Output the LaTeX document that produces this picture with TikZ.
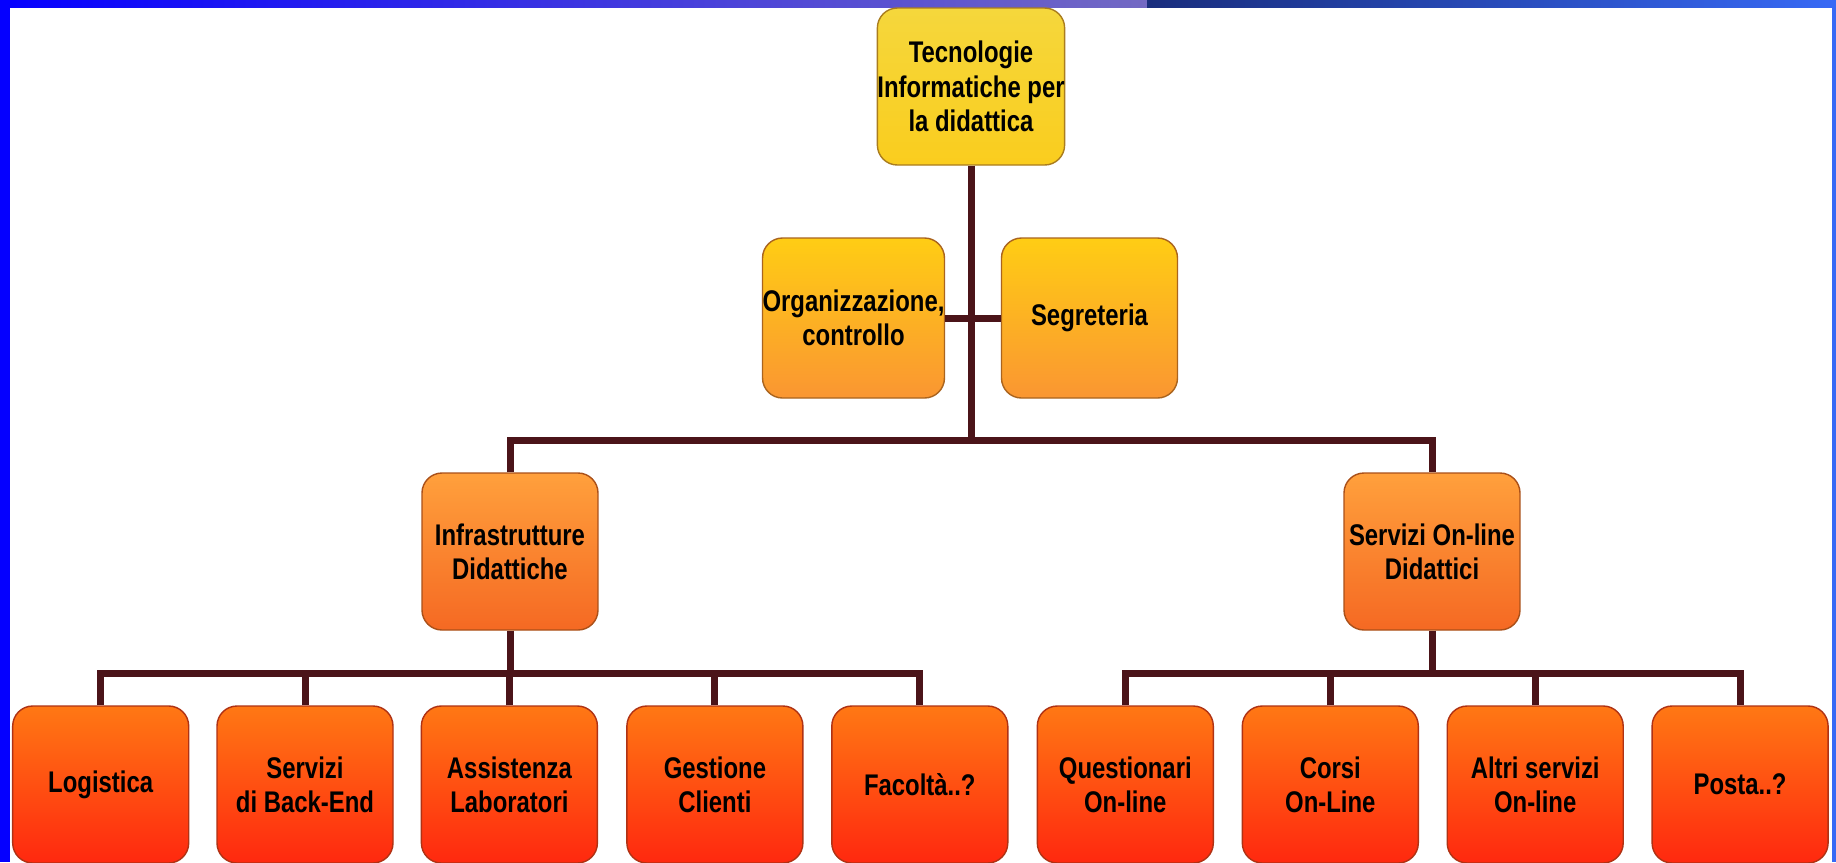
\documentclass[tikz,border=0pt]{standalone}
\usepackage{fontspec}
\setmainfont{Liberation Sans}[FakeStretch=0.8]
\usepackage{tikz}
\usetikzlibrary{shapes}

\definecolor{bandleft}{RGB}{5,0,255}
\definecolor{bandmid}{RGB}{115,105,195}
\definecolor{banddark}{RGB}{25,45,125}
\definecolor{bandright}{RGB}{55,105,245}
\definecolor{linkcol}{RGB}{75,20,25}

\begin{document}
\begin{tikzpicture}[x=0.2mm, y=-0.2mm,
  box/.style={rounded corners=4mm, line width=0.8pt, align=center,
    font=\fontsize{17}{19.5}\selectfont\bfseries, text=black,
    minimum width=35.2mm, minimum height=31.4mm, inner sep=0pt},
  rootbox/.style={box, draw={rgb,255:red,170;green,125;blue,30},
    top color={rgb,255:red,245;green,215;blue,60},
    middle color={rgb,255:red,255;green,240;blue,120},
    bottom color={rgb,255:red,250;green,205;blue,30}},
  staffbox/.style={box, minimum height=32mm, draw={rgb,255:red,170;green,100;blue,30},
    top color={rgb,255:red,255;green,205;blue,20},
    bottom color={rgb,255:red,250;green,150;blue,50}},
  areabox/.style={box, draw={rgb,255:red,170;green,80;blue,25},
    top color={rgb,255:red,255;green,160;blue,60},
    bottom color={rgb,255:red,245;green,105;blue,35}},
  leafbox/.style={box, draw={rgb,255:red,175;green,50;blue,20},
    top color={rgb,255:red,255;green,120;blue,20},
    bottom color={rgb,255:red,255;green,40;blue,15}},
  link/.style={draw=linkcol, line width=1.4mm}]

\useasboundingbox (0,0) rectangle (1836,862);
\fill[white] (0,0) rectangle (1836,862);

%%% frame %%%
\shade[left color=bandleft, right color=bandmid] (0,0) rectangle (1147,7);
\shade[left color=banddark, right color=bandright] (1147,0) rectangle (1836,7);
\fill[bandleft] (0,0) rectangle (10,862);
\fill[bandright] (1832,0) rectangle (1836,862);

%%% nodes %%%
\node[rootbox] (root) at (971,86.5) {Tecnologie\\Informatiche per\\la didattica};
\node[staffbox] (org) at (853.5,318) {Organizzazione,\\controllo};
\node[staffbox] (seg) at (1089.5,318) {Segreteria};

\node[areabox] (infra) at (510,551.5) {Infrastrutture\\Didattiche};
\node[areabox] (servol) at (1432,551.5) {Servizi On-line\\Didattici};

%% left leaves
\node[leafbox] (logi) at (100.7,784.5) {Logistica};
\node[leafbox] (backend) at (305,784.5) {Servizi\\di Back-End};
\node[leafbox] (assist) at (509.4,784.5) {Assistenza\\Laboratori};
\node[leafbox] (gest) at (714.9,784.5) {Gestione\\Clienti};
\node[leafbox] (facol) at (919.8,784.5) {Facoltà..?};
%% right leaves
\node[leafbox] (quest) at (1125.3,784.5) {Questionari\\On-line};
\node[leafbox] (corsi) at (1330.3,784.5) {Corsi\\On-Line};
\node[leafbox] (altri) at (1535.2,784.5) {Altri servizi\\On-line};
\node[leafbox] (posta) at (1740.1,784.5) {Posta..?};

%%% connectors %%%
\coordinate (mbus) at (971,440);
\coordinate (lbus) at (510,673);
\coordinate (rbus) at (1432,673);

\draw[link] (root.south) -- (mbus);
\draw[link] (org.east) -- (seg.west);
\draw[link] (infra.north) |- (mbus) -| (servol.north);

\draw[link] (infra.south) -- (lbus);
\draw[link] (logi.north) |- (facol.north |- lbus) -- (facol.north);
\draw[link] (backend.north) -- (backend.north |- lbus);
\draw[link] (assist.north) -- (assist.north |- lbus);
\draw[link] (gest.north) -- (gest.north |- lbus);

\draw[link] (servol.south) -- (rbus);
\draw[link] (quest.north) |- (posta.north |- rbus) -- (posta.north);
\draw[link] (corsi.north) -- (corsi.north |- rbus);
\draw[link] (altri.north) -- (altri.north |- rbus);

\end{tikzpicture}
\end{document}
